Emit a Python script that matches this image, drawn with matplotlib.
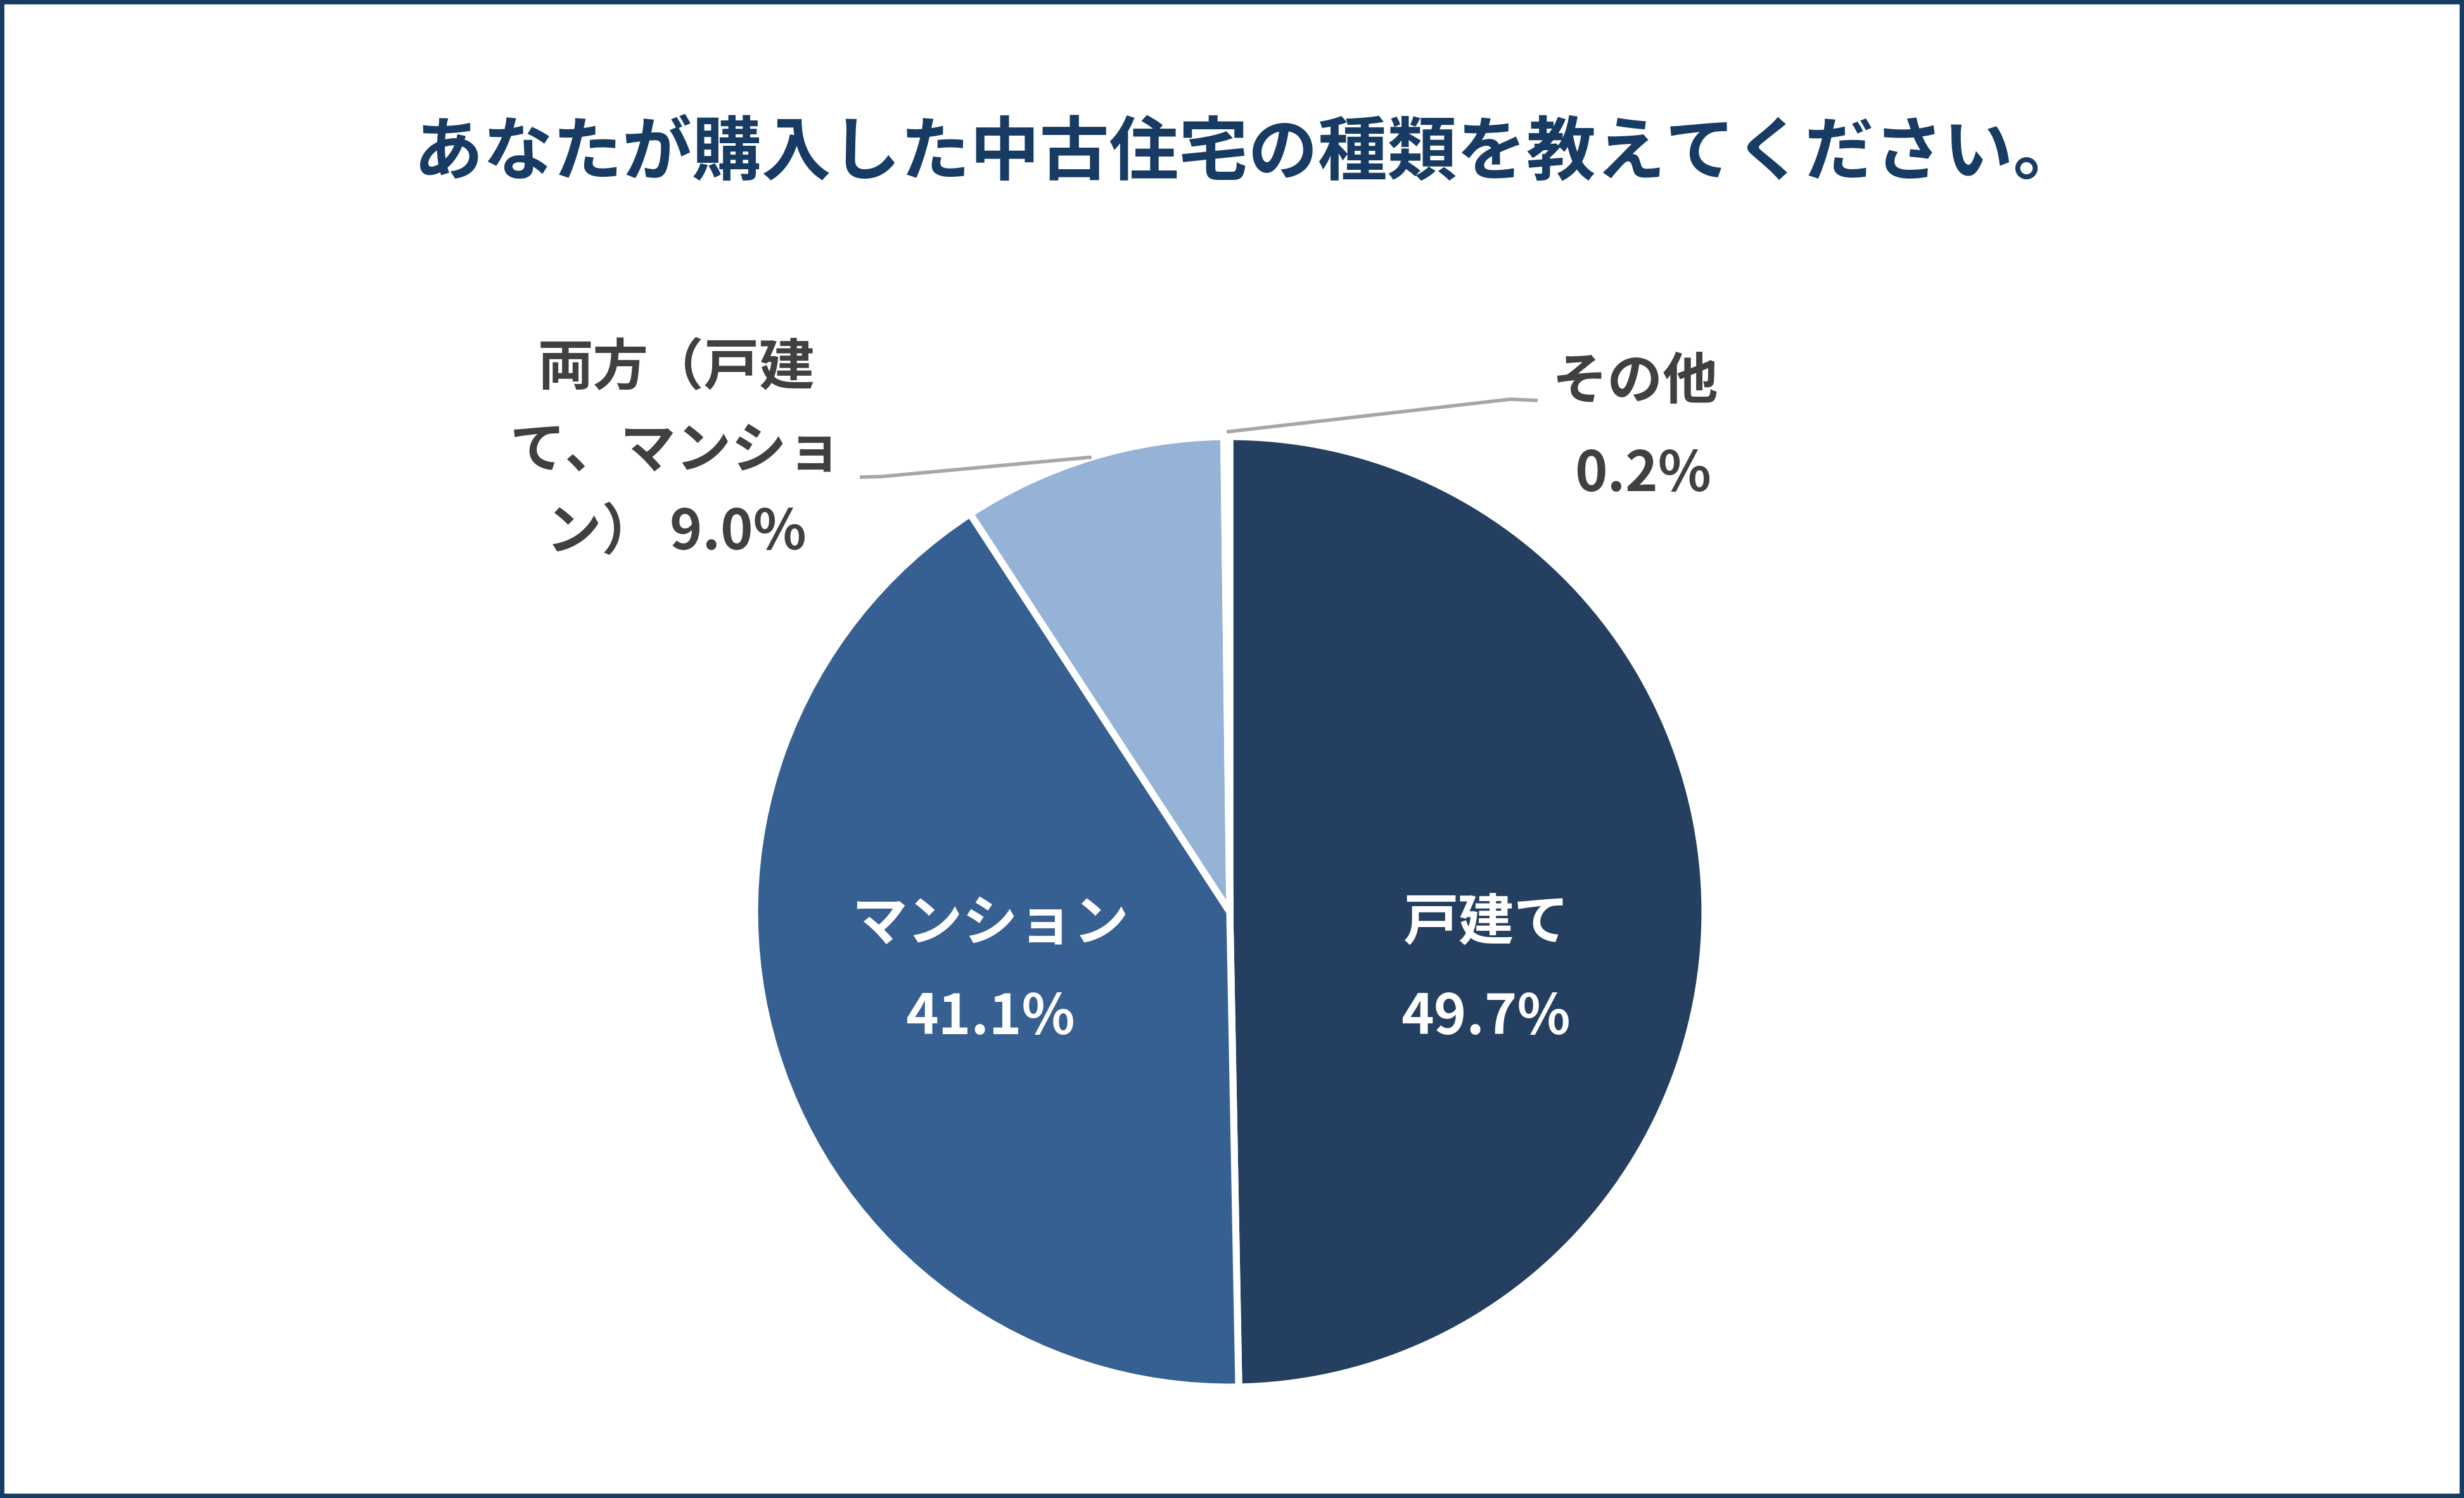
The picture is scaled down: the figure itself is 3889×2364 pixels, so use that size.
import numpy as np
import matplotlib
matplotlib.use('Agg')
import matplotlib.pyplot as plt
from matplotlib.patches import Rectangle

plt.rcParams['font.family'] = ['Noto Sans CJK JP', 'DejaVu Sans']

# データ
title = 'あなたが購入した中古住宅の種類を教えてください。'
categories = ['戸建て', 'マンション', '両方（戸建て、マンション）', 'その他']
values = [49.7, 41.1, 9.0, 0.2]
colors = ['#243f60', '#376092', '#95b3d7', '#dce6f2']

# 画像サイズ（ピクセル）
W, H = 3889, 2364
cx, cy, r = 1941, H - 1439, 750

fig = plt.figure(figsize=(W / 100, H / 100), dpi=100)
ax = fig.add_axes([0, 0, 1, 1])

wedges, _ = ax.pie(values, colors=colors, startangle=90, counterclock=False,
                   center=(cx, cy), radius=r,
                   wedgeprops=dict(edgecolor='white', linewidth=8))
ax.set_xlim(0, W)
ax.set_ylim(0, H)
ax.set_aspect('equal')
ax.axis('off')

ax.text(1970, H - 243, title, ha='center', va='center', fontsize=79,
        fontweight='bold', color='#173b62')

# 内側ラベル（白）
inside = {0: (2345, 1458, 1607), 1: (1563, 1458, 1607)}
for i, (x, y1, y2) in inside.items():
    ax.text(x, H - y1, categories[i], ha='center', va='center', fontsize=63,
            fontweight='bold', color='white')
    ax.text(x, H - y2, f'{values[i]:.1f}%', ha='center', va='center',
            fontsize=63, fontweight='bold', color='white')

def rim_point(i, k=1.01):
    theta1, theta2 = wedges[i].theta1, wedges[i].theta2
    a = np.deg2rad((theta1 + theta2) / 2)
    return cx + r * k * np.cos(a), cy + r * k * np.sin(a)

lab_col = '#404040'
line_col = '#a6a6a6'

# 両方
x0, y0 = rim_point(2, 1.0)
ax.plot([x0, 1392, 1357], [y0, H - 752, H - 753], color=line_col, lw=4,
        solid_capstyle='butt')
ax.text(1067, H - 712, '両方（戸建\nて、マンショ\nン） ' + f'{values[2]:.1f}%',
        ha='center', va='center', fontsize=63, fontweight='bold',
        color=lab_col, linespacing=1.6)

# その他
x0, y0 = rim_point(3, 1.01)
ax.plot([x0, 2384, 2427], [y0, H - 630, H - 632], color=line_col, lw=4,
        solid_capstyle='butt')
ax.text(2580, H - 604, categories[3], ha='center', va='center', fontsize=63,
        fontweight='bold', color=lab_col)
ax.text(2593, H - 750, f'{values[3]:.1f}%', ha='center', va='center',
        fontsize=63, fontweight='bold', color=lab_col)

# 枠線
fig.add_artist(Rectangle((0, 0), 1, 1, transform=fig.transFigure, fill=False,
                         edgecolor='#173d63', linewidth=10))

fig.savefig('out.png', dpi=100, facecolor='white')
